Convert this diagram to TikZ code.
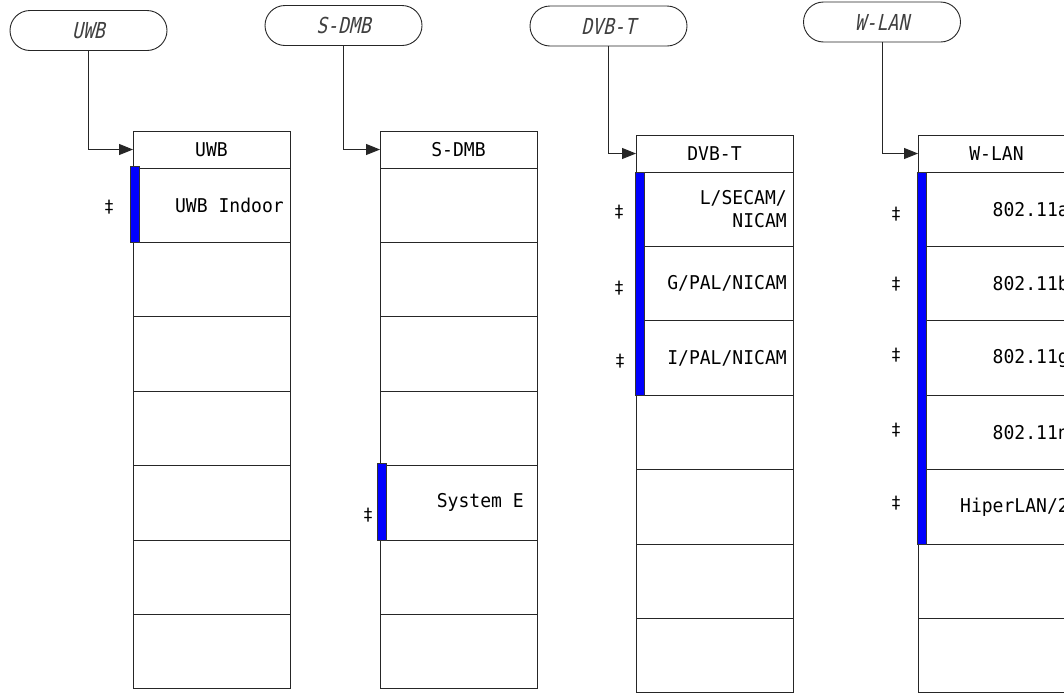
\documentclass[tikz,border=0pt]{standalone}
\usepackage{fontspec}
\newfontfamily\menufont[FakeStretch=0.95]{DejaVu Sans Mono}
\newfontfamily\softfont[FakeSlant=0.22,FakeStretch=0.82]{DejaVu Sans Mono}
\newfontfamily\symfont{DejaVu Sans}
\usetikzlibrary{arrows.meta}
\tikzset{
 line/.style={draw=black!85, line width=0.9pt},
 cell/.style={line, fill=white, minimum width=157pt, inner sep=0pt, outer sep=0pt},
 softkey/.style={line, rounded corners=20pt, minimum width=157pt, minimum height=40pt, inner sep=0pt, font=\softfont\fontsize{22}{22}\selectfont, text=black!75},
 hdr/.style={cell, minimum height=37pt, font=\menufont\fontsize{19}{19}\selectfont},
 rowcell/.style={cell, minimum height=74.4pt},
 lbl/.style={anchor=east, inner sep=0pt, font=\menufont\fontsize{19}{23}\selectfont, align=right},
 bar/.style={draw=black!80, line width=0.6pt, fill=blue},
 dag/.style={font=\symfont\fontsize{17}{17}\selectfont, inner sep=0pt},
 link/.style={line, -{Triangle[length=14pt,width=11pt]}},
}
\newcommand\menucol[4]{%
 \node[hdr, anchor=north west] (#1h) at (#2,#3) {#4};
 \foreach \i in {1,...,7} {
   \node[rowcell, anchor=north west] (#1\i) at (#2,{#3+37+(\i-1)*74.4}) {};
 }%
}
\begin{document}
\begin{tikzpicture}[x=1pt,y=-1pt]
\useasboundingbox (0,0) rectangle (1064,694);
\fill[white] (0,0) rectangle (1064,694);

% soft keys
\node[softkey] (uwbs) at (88.5,30.5) {UWB};
\node[softkey] (sdmbs) at (343.5,25.5) {S-DMB};
\node[softkey] (dvbs) at (608.5,26) {DVB-T};
\node[softkey] (wlans) at (882,22) {W-LAN};

% menu columns
\menucol{uwb}{133}{131}{UWB}
\menucol{sdmb}{380}{131}{S-DMB}
\menucol{dvb}{636}{135}{DVB-T}
\menucol{wlan}{918}{135}{W-LAN}

% connectors
\draw[link] (uwbs.south) |- (uwbh.west);
\draw[link] (sdmbs.south) |- (sdmbh.west);
\draw[link] (dvbs.south) |- (dvbh.west);
\draw[link] (wlans.south) |- (wlanh.west);

% row labels
\node[lbl] (uwbt1) at ([xshift=-6pt]uwb1.east) {UWB Indoor};
\node[lbl] (sdmbt5) at ([xshift=-13pt]sdmb5.east) {System E};
\node[lbl] (dvbt1) at ([xshift=-6pt]dvb1.east) {L/SECAM/\\NICAM};
\node[lbl] (dvbt2) at ([xshift=-6pt]dvb2.east) {G/PAL/NICAM};
\node[lbl] (dvbt3) at ([xshift=-6pt]dvb3.east) {I/PAL/NICAM};
\node[lbl] (wlant1) at ([xshift=-6pt]wlan1.east) {802.11a};
\node[lbl] (wlant2) at ([xshift=-6pt]wlan2.east) {802.11b};
\node[lbl] (wlant3) at ([xshift=-6pt]wlan3.east) {802.11g};
\node[lbl] (wlant4) at ([xshift=-6pt]wlan4.east) {802.11n};
\node[lbl] (wlant5) at ([xshift=-6pt]wlan5.east) {HiperLAN/2};

% blue bars
\draw[bar] ([xshift=-2.3pt,yshift=2pt]uwb1.north west) rectangle ([xshift=6.3pt]uwb1.south west);
\draw[bar] ([xshift=-2.3pt,yshift=2pt]sdmb5.north west) rectangle ([xshift=6.3pt]sdmb5.south west);
\draw[bar] ([xshift=-0.5pt]dvb1.north west) rectangle ([xshift=8.5pt]dvb3.south west);
\draw[bar] ([xshift=-0.5pt]wlan1.north west) rectangle ([xshift=8.5pt]wlan5.south west);

% daggers
\node[dag] (uwbd1) at ([xshift=-24pt,yshift=-2pt]uwb1.west) {‡};
\node[dag] (sdmbd5) at ([xshift=-12pt,yshift=-12pt]sdmb5.west) {‡};
\node[dag] (dvbd1) at ([xshift=-17pt,yshift=-3pt]dvb1.west) {‡};
\node[dag] (dvbd2) at ([xshift=-17pt,yshift=-5pt]dvb2.west) {‡};
\node[dag] (dvbd3) at ([xshift=-16pt,yshift=-3pt]dvb3.west) {‡};
\node[dag] (wland1) at ([xshift=-22pt,yshift=-5pt]wlan1.west) {‡};
\node[dag] (wlan2d) at ([xshift=-22pt,yshift=-1pt]wlan2.west) {‡};
\node[dag] (wlan3d) at ([xshift=-22pt,yshift=3pt]wlan3.west) {‡};
\node[dag] (wlan4d) at ([xshift=-22pt,yshift=2pt]wlan4.west) {‡};
\node[dag] (wlan5d) at ([xshift=-22pt,yshift=4pt]wlan5.west) {‡};
\end{tikzpicture}
\end{document}
